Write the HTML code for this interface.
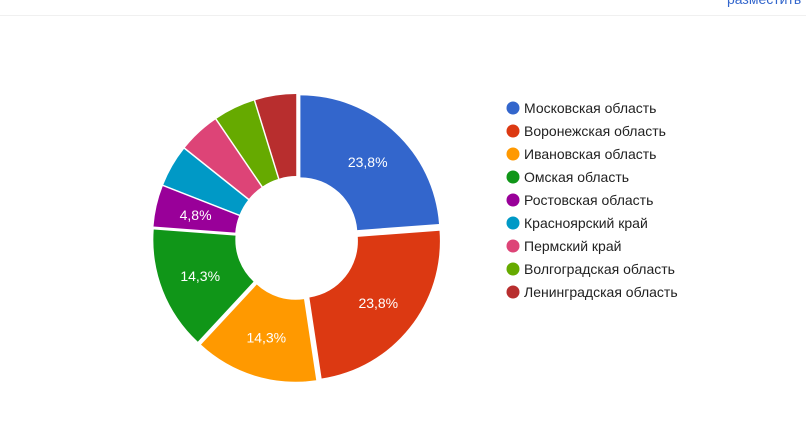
<!DOCTYPE html>
<html><head><meta charset="utf-8"><style>
body{margin:0;background:#fff;width:806px;height:432px;overflow:hidden;font-family:"Liberation Sans",Arial,sans-serif}
</style></head><body>
<svg id="s" width="806" height="432" xmlns="http://www.w3.org/2000/svg" style="position:absolute;left:0;top:0">
<line x1="0" y1="15.5" x2="806" y2="15.5" stroke="#f0f0f0"/>
<text x="727" y="4" font-size="14" fill="#3366cc" font-family="Liberation Sans, sans-serif">разместить</text>
<g id="pie"></g>
<g id="leg" font-size="14" fill="#222" font-family="Liberation Sans, sans-serif"></g>
</svg>
<script>
var cx=297,cy=238,R=139,r=57,off=5;
var d=[[5,"#3366cc","Московская область","23,8%"],[5,"#dc3912","Воронежская область","23,8%"],[3,"#ff9900","Ивановская область","14,3%"],[3,"#109618","Омская область","14,3%"],[1,"#990099","Ростовская область","4,8%"],[1,"#0099c6","Красноярский край",""],[1,"#dd4477","Пермский край",""],[1,"#66aa00","Волгоградская область",""],[1,"#b82e2e","Ленинградская область",""]];
var pie=document.getElementById("pie"),leg=document.getElementById("leg");
var a=0,h="",lh="";
function P(rad,ang,ox,oy){return (cx+ox+rad*Math.sin(ang)).toFixed(2)+","+(cy+oy-rad*Math.cos(ang)).toFixed(2);}
d.forEach(function(s,i){
 var a0=a/21*2*Math.PI,a1=(a+s[0])/21*2*Math.PI,m=(a0+a1)/2;a+=s[0];
 var ox=off*Math.sin(m),oy=-off*Math.cos(m),lg=(a1-a0)>Math.PI?1:0;
 h+='<path fill="'+s[1]+'" d="M'+P(R,a0,ox,oy)+' A'+R+','+R+' 0 '+lg+' 1 '+P(R,a1,ox,oy)+' L'+P(r,a1,ox,oy)+' A'+r+','+r+' 0 '+lg+' 0 '+P(r,a0,ox,oy)+' Z"/>';
 if(s[3]){var lr=104;h+='<text x="'+(cx+lr*Math.sin(m)).toFixed(1)+'" y="'+(cy-lr*Math.cos(m)+5).toFixed(1)+'" fill="#fff" font-size="14" text-anchor="middle" font-family="Liberation Sans, sans-serif">'+s[3]+'</text>';}
 var y=108+i*23;
 lh+='<circle cx="513" cy="'+y+'" r="6.5" fill="'+s[1]+'"/><text x="524" y="'+(y+5)+'">'+s[2]+'</text>';
});
pie.innerHTML=h;leg.innerHTML=lh;
</script>
</body></html>
